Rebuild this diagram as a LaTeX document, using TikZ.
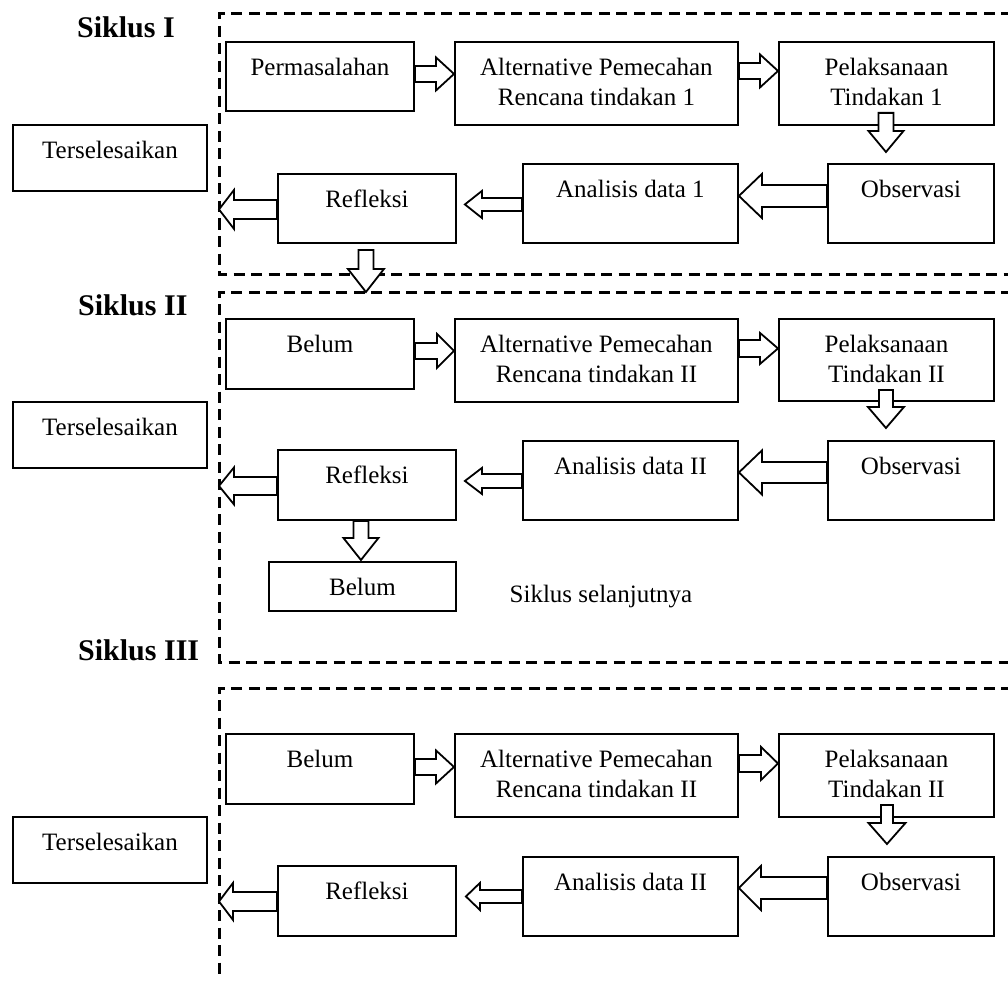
\documentclass[tikz,border=0pt]{standalone}
\usepackage{fontspec}
\setmainfont{Liberation Serif}
\usetikzlibrary{calc}

\tikzset{
  tbox/.style={draw, line width=1.9pt, inner sep=0pt, font=\fontsize{25}{30}\selectfont},
  blockarrow/.style={draw, fill=white, line width=1.8pt, line join=miter},
  cycleframe/.style={line width=3pt, dash pattern=on 11pt off 6.5pt},
  heading/.style={font=\fontsize{30}{36}\selectfont\bfseries, inner sep=0pt, anchor=base west},
  plain/.style={font=\fontsize{25}{30}\selectfont, inner sep=0pt, anchor=base},
}

% box with top-aligned, centred text: name, x1, y1, x2, y2, text
\newcommand\tbox[6]{%
  \node[tbox, anchor=north west] (#1) at (#2,#3)
    {\parbox[c][\dimexpr #5pt-#3pt\relax][t]{\dimexpr #4pt-#2pt\relax}{\centering\vspace*{12.5pt}\strut #6}};}

% hollow block arrow: start, tip, shaft half width, head half width, head length
\newcommand\barrow[5]{%
  \path #1 coordinate (bas);
  \path #2 coordinate (bae);
  \path ($(bae)!#5!(bas)$) coordinate (bah);
  \filldraw[blockarrow] ($(bas)!#3!90:(bae)$) -- ($(bah)!#3!90:(bae)$) -- ($(bah)!#4!90:(bae)$)
    -- (bae) -- ($(bah)!#4!-90:(bae)$) -- ($(bah)!#3!-90:(bae)$) -- ($(bas)!#3!-90:(bae)$) -- cycle;}

\begin{document}
\begin{tikzpicture}[x=1pt,y=-1pt]
\useasboundingbox (0,0) rectangle (1008,984);

% dashed cycle frames
\coordinate (f1) at (219,14);
\coordinate (f2) at (219,292);
\coordinate (f3) at (219,688);
\draw[cycleframe] (1012,14) -- (f1) -- (219,274) -- (1012,274);
\draw[cycleframe] (1012,292) -- (f2) -- (219,662) -- (1012,662);
\draw[cycleframe] (1012,688) -- (f3) -- (219,980);

% headings
\node[heading] (sik1) at (77,38) {Siklus I};
\node[heading] (sik2) at (78,315) {Siklus II};
\node[heading] (sik3) at (78,660) {Siklus III};

% cycle I
\tbox{ters1}{12}{124}{206}{190}{Terselesaikan}
\tbox{perm}{225}{41}{413}{110}{Permasalahan}
\tbox{alt1}{454}{41}{737}{124}{Alternative Pemecahan\\Rencana tindakan 1}
\tbox{pel1}{778}{41}{993}{124}{Pelaksanaan\\Tindakan 1}
\tbox{obs1}{827}{163}{993}{242}{Observasi}
\tbox{ana1}{522}{163}{737}{242}{Analisis data 1}
\tbox{ref1}{277}{173}{455}{242}{Refleksi}

% cycle II
\tbox{ters2}{12}{401}{206}{467}{Terselesaikan}
\tbox{bel2}{225}{318}{413}{388}{Belum}
\tbox{alt2}{454}{318}{737}{401}{Alternative Pemecahan\\Rencana tindakan II}
\tbox{pel2}{778}{318}{993}{400}{Pelaksanaan\\Tindakan II}
\tbox{obs2}{827}{440}{993}{519}{Observasi}
\tbox{ana2}{522}{440}{737}{519}{Analisis data II}
\tbox{ref2}{277}{449}{455}{519}{Refleksi}
\tbox{bel2b}{268}{561}{455}{610}{Belum}
\node[plain] (next) at (601,602) {Siklus selanjutnya};

% cycle III
\tbox{ters3}{12}{816}{206}{882}{Terselesaikan}
\tbox{bel3}{225}{733}{413}{803}{Belum}
\tbox{alt3}{454}{733}{737}{816}{Alternative Pemecahan\\Rencana tindakan II}
\tbox{pel3}{778}{733}{993}{816}{Pelaksanaan\\Tindakan II}
\tbox{obs3}{827}{856}{993}{935}{Observasi}
\tbox{ana3}{522}{856}{737}{935}{Analisis data II}
\tbox{ref3}{277}{865}{455}{935}{Refleksi}

% arrows, cycle I
\barrow{([yshift=2.5pt]perm.east)}{(alt1.west |- bas)}{8pt}{16.5pt}{18pt}
\barrow{([yshift=12.5pt]alt1.east)}{(pel1.west |- bas)}{8pt}{16.5pt}{18pt}
\barrow{([yshift=13pt,xshift=-0.5pt]pel1.south)}{([yshift=11pt]obs1.north -| bas)}{7.5pt}{17.5pt}{21pt}
\barrow{([yshift=7.5pt]obs1.west)}{(ana1.east |- bas)}{11pt}{22pt}{23pt}
\barrow{([yshift=-1pt]ana1.west)}{([xshift=8pt]ref1.east |- bas)}{6.5pt}{13.5pt}{17pt}
\barrow{([yshift=-1pt]ref1.west)}{(f1 |- bas)}{9.5pt}{19.5pt}{15pt}
\barrow{([yshift=-6pt,xshift=-1pt]ref1.south)}{(bas |- f2)}{7.5pt}{18pt}{23pt}

% arrows, cycle II
\barrow{([yshift=3pt]bel2.east)}{(alt2.west |- bas)}{8pt}{17pt}{17pt}
\barrow{([yshift=12pt]alt2.east)}{(pel2.west |- bas)}{8.5pt}{15.5pt}{18pt}
\barrow{([yshift=12pt,xshift=-0.5pt]pel2.south)}{([yshift=12pt]obs2.north -| bas)}{7pt}{18pt}{21pt}
\barrow{([yshift=8pt]obs2.west)}{(ana2.east |- bas)}{10.5pt}{22pt}{23pt}
\barrow{([yshift=-0.5pt]ana2.west)}{([xshift=8pt]ref2.east |- bas)}{7pt}{13pt}{17pt}
\barrow{([yshift=-1pt]ref2.west)}{(f2 |- bas)}{9pt}{18.5pt}{15pt}
\barrow{([xshift=-6pt]ref2.south)}{([yshift=1pt]bel2b.north -| bas)}{7.5pt}{17.5pt}{22pt}

% arrows, cycle III
\barrow{([yshift=2pt]bel3.east)}{(alt3.west |- bas)}{8pt}{16.5pt}{18pt}
\barrow{([yshift=12pt]alt3.east)}{(pel3.west |- bas)}{8.5pt}{16.5pt}{17pt}
\barrow{([yshift=13pt,xshift=0.5pt]pel3.south)}{([yshift=12pt]obs3.north -| bas)}{6pt}{18.5pt}{21pt}
\barrow{([yshift=8.5pt]obs3.west)}{(ana3.east |- bas)}{11pt}{22pt}{22pt}
\barrow{(ana3.west)}{([xshift=9pt]ref3.east |- bas)}{6.5pt}{13.5pt}{14pt}
\barrow{([yshift=-0.5pt]ref3.west)}{(f3 |- bas)}{9.5pt}{18.5pt}{14pt}
\end{tikzpicture}
\end{document}
